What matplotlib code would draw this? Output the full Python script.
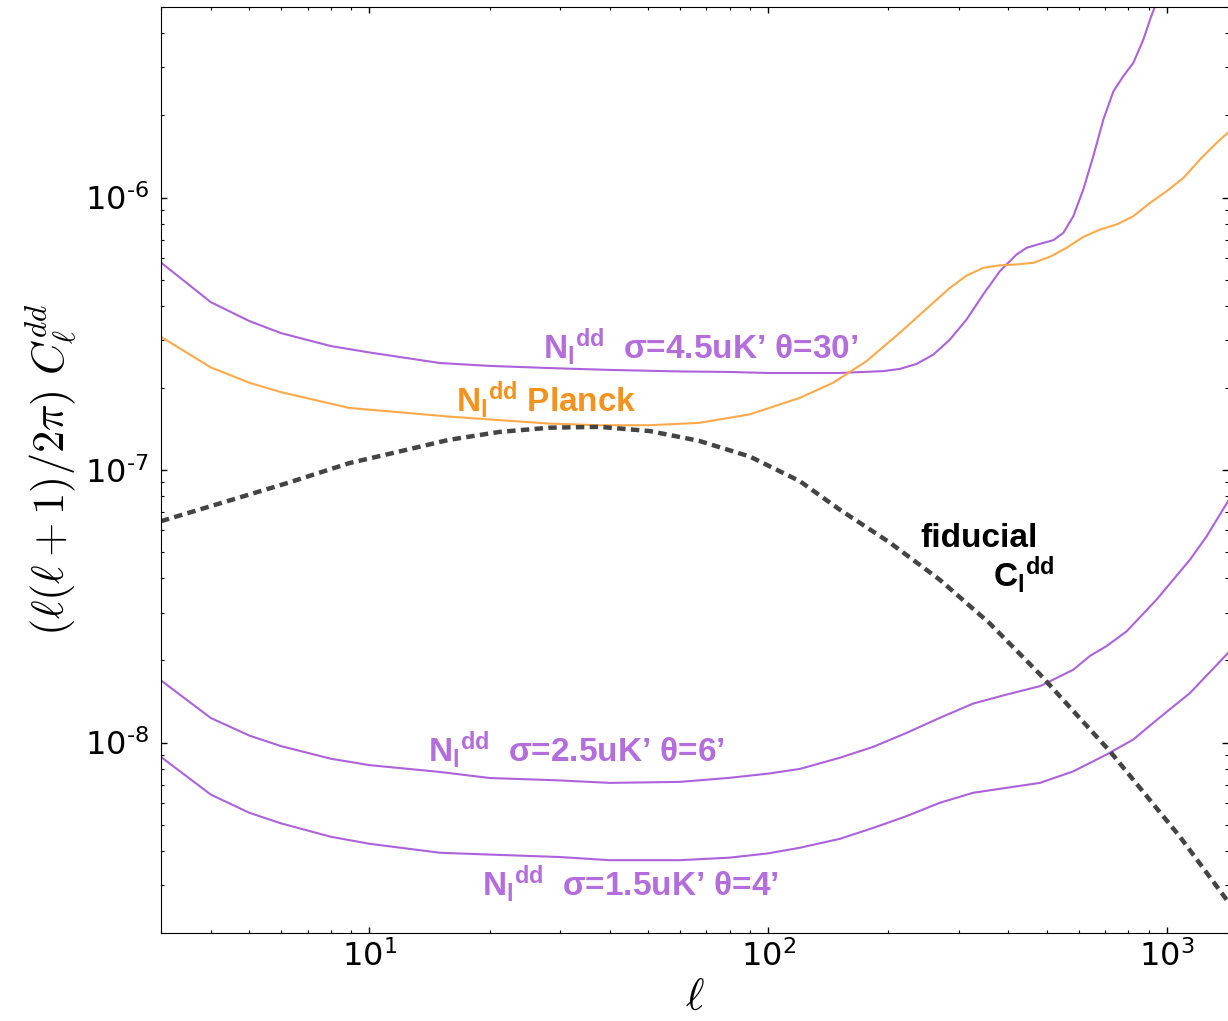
import matplotlib
matplotlib.use('Agg')
import matplotlib.pyplot as plt
from matplotlib.ticker import FuncFormatter, FixedLocator, LogLocator, NullFormatter
import numpy as np

plt.rcParams['mathtext.fontset'] = 'dejavusans'
plt.rcParams['mathtext.rm'] = 'Liberation Sans:bold'
plt.rcParams['mathtext.it'] = 'Liberation Sans:bold'
plt.rcParams['mathtext.bf'] = 'Liberation Sans:bold'

# fiducial lensing deflection spectrum
ell_fid = [3, 4, 6.24, 8.9, 11.9, 15.8, 21.2, 28.3, 37.8, 50.4, 67, 90, 120, 151, 202, 269, 358,
           480, 719, 1075, 1416]
cl_fid = [6.49e-8, 7.37e-8, 8.97e-8, 1.06e-7, 1.17e-7, 1.29e-7, 1.38e-7, 1.43e-7, 1.44e-7, 1.39e-7,
          1.28e-7, 1.12e-7, 9.1e-8, 7.16e-8, 5.41e-8, 3.96e-8, 2.75e-8, 1.78e-8, 9.29e-9, 4.53e-9,
          2.63e-9]

# Planck noise
ell_planck = [3, 4, 5, 6, 8.9, 15.9, 28.3, 37.8, 50.4, 67.2, 89.8, 120, 145.4, 176.4, 213.8, 259.2,
              285.4, 314.4, 346, 381, 419.5, 461.9, 508.6, 560.1, 616.6, 679.2, 747.7, 823.2, 906.6,
              998, 1099, 1210, 1333, 1422]
nl_planck = [3.08e-7, 2.38e-7, 2.09e-7, 1.93e-7, 1.69e-7, 1.57e-7, 1.48e-7, 1.46e-7, 1.46e-7, 1.49e-7,
             1.60e-7, 1.84e-7, 2.09e-7, 2.51e-7, 3.19e-7, 4.11e-7, 4.66e-7, 5.17e-7, 5.52e-7, 5.64e-7,
             5.68e-7, 5.76e-7, 6.06e-7, 6.54e-7, 7.17e-7, 7.63e-7, 7.96e-7, 8.54e-7, 9.56e-7,
             1.055e-6, 1.18e-6, 1.38e-6, 1.59e-6, 1.73e-6]

# sigma=4.5uK' theta=30'
ell_45 = [3, 4, 5, 6, 8, 10, 15, 20, 30, 40, 60, 80, 100, 150, 194.2, 213.8, 235.4, 259.2, 285.4,
          314.4, 346, 381, 419.5, 444.6, 480.1, 518.5, 549.5, 582.2, 616.6, 653.4, 692.2, 733.4,
          777.1, 823.2, 872.2, 906.6, 933, 980]
nl_45 = [5.77e-7, 4.13e-7, 3.52e-7, 3.18e-7, 2.85e-7, 2.70e-7, 2.47e-7, 2.41e-7, 2.36e-7, 2.33e-7,
         2.30e-7, 2.29e-7, 2.27e-7, 2.27e-7, 2.306e-7, 2.35e-7, 2.45e-7, 2.65e-7, 3.01e-7, 3.57e-7,
         4.41e-7, 5.37e-7, 6.18e-7, 6.54e-7, 6.76e-7, 6.97e-7, 7.42e-7, 8.54e-7, 1.07e-6, 1.42e-6,
         1.93e-6, 2.45e-6, 2.79e-6, 3.12e-6, 3.80e-6, 4.50e-6, 5.03e-6, 6.0e-6]

# sigma=2.5uK' theta=6'
ell_25 = [3, 4, 5, 6, 8, 10, 15, 20, 30, 40, 60, 80, 100, 120, 151.1, 183.3, 222.3, 269.4, 326.5,
          396.1, 480.1, 582.2, 641, 705.8, 792.2, 942.1, 1142, 1257, 1422]
nl_25 = [1.69e-8, 1.23e-8, 1.06e-8, 9.70e-9, 8.72e-9, 8.26e-9, 7.80e-9, 7.41e-9, 7.26e-9, 7.11e-9,
         7.17e-9, 7.42e-9, 7.69e-9, 8.0e-9, 8.79e-9, 9.64e-9, 1.085e-8, 1.232e-8, 1.39e-8, 1.50e-8,
         1.61e-8, 1.85e-8, 2.08e-8, 2.26e-8, 2.56e-8, 3.35e-8, 4.69e-8, 5.71e-8, 7.68e-8]

# sigma=1.5uK' theta=4'
ell_15 = [3, 4, 5, 6, 8, 10, 15, 20, 30, 40, 60, 80, 100, 120, 151.1, 183.3, 222.3, 269.4, 326.5,
          396.1, 480.1, 582.2, 705.8, 823.2, 942.1, 1142, 1422]
nl_15 = [8.85e-9, 6.44e-9, 5.52e-9, 5.05e-9, 4.51e-9, 4.25e-9, 3.94e-9, 3.88e-9, 3.80e-9, 3.70e-9,
         3.70e-9, 3.78e-9, 3.92e-9, 4.11e-9, 4.43e-9, 4.86e-9, 5.37e-9, 6.01e-9, 6.54e-9, 6.82e-9,
         7.11e-9, 7.84e-9, 9.04e-9, 1.026e-8, 1.21e-8, 1.52e-8, 2.13e-8]

purple = '#ad62dc'
purple_txt = '#b36ddc'
orange = '#ffa94a'
orange_txt = '#f3921c'

fig = plt.figure(figsize=(12.28, 10.21), dpi=100)
ax = fig.add_axes([0.1311, 0.0862, 0.8689, 0.9069])

ax.plot(ell_45, nl_45, color=purple, lw=1.5)
ax.plot(ell_25, nl_25, color=purple, lw=1.5)
ax.plot(ell_15, nl_15, color=purple, lw=1.5)
ax.plot(ell_planck, nl_planck, color=orange, lw=1.5)
ax.plot(ell_fid, cl_fid, color='#444444', lw=3.2, linestyle=(0, (1.9, 1.2)))

ax.set_xscale('log')
ax.set_yscale('log')
ax.set_xlim(3, 1422)
ax.set_ylim(2e-9, 5e-6)

ax.xaxis.set_major_locator(FixedLocator([10, 100, 1000]))
ax.yaxis.set_major_locator(FixedLocator([1e-8, 1e-7, 1e-6]))
ax.xaxis.set_minor_locator(LogLocator(base=10, subs=np.arange(2, 10)))
ax.yaxis.set_minor_locator(LogLocator(base=10, subs=np.arange(2, 10)))
ax.xaxis.set_minor_formatter(NullFormatter())
ax.yaxis.set_minor_formatter(NullFormatter())
ax.xaxis.set_major_formatter(FuncFormatter(lambda v, p: r'$10^{%d}$' % round(np.log10(v))))
ax.yaxis.set_major_formatter(FuncFormatter(lambda v, p: r'$10^{\text{-%d}}$' % round(-np.log10(v))))

ax.tick_params(which='both', direction='in', top=True, right=True, labelsize=23)
ax.tick_params(which='major', length=4.5, width=1)
ax.tick_params(which='minor', length=2.5, width=0.8)
ax.tick_params(axis='y', pad=9)
ax.tick_params(axis='x', pad=5)
ax.spines['right'].set_visible(False)
for s in ax.spines.values():
    s.set_color('black')

ax.set_xlabel(r'$\ell$', fontsize=32, math_fontfamily='cm', labelpad=2)
ax.set_ylabel(r'$(\ell(\ell+1)/2\pi)\ C_\ell^{dd}$', fontsize=32, math_fontfamily='cm', labelpad=3)

tkw = dict(fontsize=24, fontweight='bold', family='Liberation Sans', math_fontfamily='custom',
           ha='left', va='baseline')
ax.text(27.2, 2.55e-7, 'N$_\\mathrm{l}$$^\\mathrm{dd}$  σ=4.5uK’ θ=30’', color=purple_txt, **tkw)
ax.text(16.5, 1.63e-7, 'N$_\\mathrm{l}$$^\\mathrm{dd}$ Planck', color=orange_txt, **tkw)
ax.text(14.0, 8.45e-9, 'N$_\\mathrm{l}$$^\\mathrm{dd}$  σ=2.5uK’ θ=6’', color=purple_txt, **tkw)
ax.text(19.2, 2.72e-9, 'N$_\\mathrm{l}$$^\\mathrm{dd}$  σ=1.5uK’ θ=4’', color=purple_txt, **tkw)
ax.text(240, 5.24e-8, 'fiducial', color='black', **tkw)
ax.text(366, 3.71e-8, 'C$_\\mathrm{l}$$^\\mathrm{dd}$', color='black', **tkw)

fig.savefig('out.png', dpi=100)
